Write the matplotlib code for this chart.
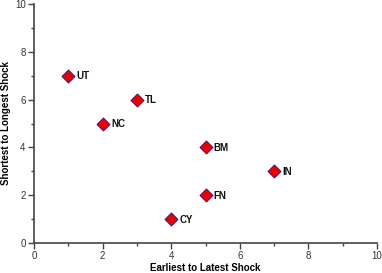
import matplotlib
matplotlib.use("Agg")
import matplotlib.pyplot as plt
from matplotlib.ticker import MultipleLocator

# data
labels = ["UT", "TL", "NC", "BM", "IN", "FN", "CY"]
earliest_to_latest = [1, 3, 2, 5, 7, 5, 4]
shortest_to_longest = [7, 6, 5, 4, 3, 2, 1]

plt.rcParams['font.family'] = ['Liberation Sans', 'DejaVu Sans']

fig = plt.figure(figsize=(3.82, 2.73), dpi=100)
ax = fig.add_axes([0.089, 0.110, 0.898, 0.875])

ax.scatter(earliest_to_latest, shortest_to_longest, marker='D', s=42,
           facecolor='#ee0000', edgecolor='#5a1a6a', linewidth=0.9, zorder=3, clip_on=False)
for x, y, lab in zip(earliest_to_latest, shortest_to_longest, labels):
    ax.annotate(lab, (x, y), xytext=(6, -0.5), textcoords='offset points',
                fontsize=7, fontweight='bold', va='center', ha='left', color='#111111')

ax.set_xlim(0, 10)
ax.set_ylim(0, 10)
ax.xaxis.set_major_locator(MultipleLocator(2))
ax.xaxis.set_minor_locator(MultipleLocator(1))
ax.yaxis.set_major_locator(MultipleLocator(2))
ax.yaxis.set_minor_locator(MultipleLocator(1))

for side in ['top', 'right']:
    ax.spines[side].set_visible(False)
for side in ['left', 'bottom']:
    ax.spines[side].set_linewidth(1.2)
    ax.spines[side].set_color('#444444')

ax.tick_params(which='major', length=4, width=1, color='#444444', labelsize=7, labelcolor='#333333', pad=2)
ax.tick_params(which='minor', length=2.5, width=1, color='#444444')

ax.set_xlabel('Earliest to Latest Shock', fontsize=7, fontweight='bold', labelpad=1)
ax.set_ylabel('Shortest to Longest Shock', fontsize=7, fontweight='bold', labelpad=3)

fig.savefig('out.png', dpi=100)
